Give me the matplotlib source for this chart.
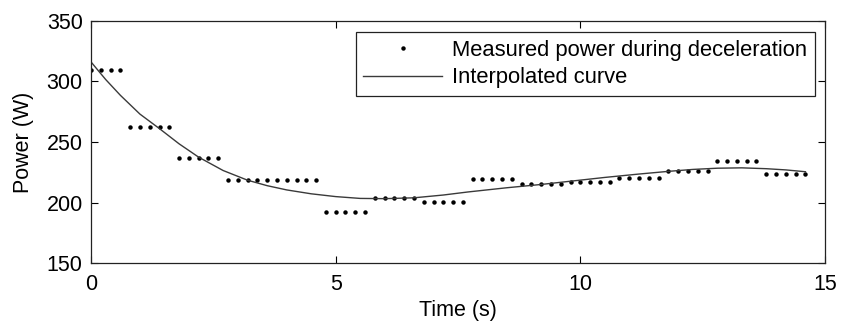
import matplotlib
matplotlib.use("Agg")
import matplotlib.pyplot as plt

# measured samples (one every 0.2 s)
time_meas = [0.0, 0.2, 0.4, 0.6,
             0.8, 1.0, 1.2, 1.4, 1.6,
             1.8, 2.0, 2.2, 2.4, 2.6,
             2.8, 3.0, 3.2, 3.4, 3.6, 3.8, 4.0, 4.2, 4.4, 4.6,
             4.8, 5.0, 5.2, 5.4, 5.6,
             5.8, 6.0, 6.2, 6.4, 6.6,
             6.8, 7.0, 7.2, 7.4, 7.6,
             7.8, 8.0, 8.2, 8.4, 8.6,
             8.8, 9.0, 9.2, 9.4, 9.6,
             9.8, 10.0, 10.2, 10.4, 10.6,
             10.8, 11.0, 11.2, 11.4, 11.6,
             11.8, 12.0, 12.2, 12.4, 12.6,
             12.8, 13.0, 13.2, 13.4, 13.6,
             13.8, 14.0, 14.2, 14.4, 14.6]
power_meas = [309.5, 309.5, 309.5, 309.5,
              262.5, 262.5, 262.5, 262.5, 262.5,
              237, 237, 237, 237, 237,
              219, 219, 219, 219, 219, 218.5, 218.5, 218.5, 218.5, 218.5,
              192, 192, 192, 192, 192,
              204, 204, 204, 204, 204,
              200.5, 200.5, 200.5, 200.5, 200.5,
              219.5, 219.5, 219.5, 219.5, 219.5,
              215, 215, 215, 215, 215,
              217, 217, 217, 217, 217,
              220.5, 220.5, 220.5, 220.5, 220.5,
              226, 226, 226, 226, 226,
              234.5, 234.5, 234.5, 234.5, 234.5,
              224, 224, 224, 224, 224]

# interpolated curve
time_curve = [0.0, 0.3, 0.6, 1.0, 1.4, 1.8, 2.2, 2.7, 3.2, 3.6, 4.0, 4.5,
              5.0, 5.5, 6.0, 6.6, 7.2, 7.7, 8.5, 9.2, 9.6, 10.5, 11.2,
              11.8, 12.3, 12.8, 13.3, 13.8, 14.2, 14.6]
power_curve = [316, 301.5, 288.5, 273, 261, 248.5, 237.5, 226.5, 218.5, 214,
               210.5, 207.3, 205, 203.5, 203.3, 204, 206.3, 208.8, 212.3, 215,
               216.8, 220.8, 223.6, 225.8, 227.4, 228.4, 228.7, 228, 227, 225.5]

plt.rcParams['font.family'] = ['Liberation Sans', 'DejaVu Sans']
plt.rcParams['font.size'] = 15.5

fig = plt.figure(figsize=(8.42, 3.25), dpi=100)
ax = fig.add_axes([0.1081, 0.1898, 0.8717, 0.7465])

ax.plot(time_meas, power_meas, linestyle='none', marker='o', markersize=3.2,
        color='black', markeredgewidth=0, label='Measured power during deceleration')
ax.plot(time_curve, power_curve, color='#3a3a3a', linewidth=1.0,
        label='Interpolated curve')

ax.set_xlim(0, 15)
ax.set_ylim(150, 350)
ax.set_xticks([0, 5, 10, 15])
ax.set_yticks([150, 200, 250, 300, 350])
ax.tick_params(direction='in', length=5, width=0.8, top=True, right=True,
               labelsize=15.5)
ax.tick_params(axis='x', pad=8)
ax.tick_params(axis='y', pad=6)
for sp in ax.spines.values():
    sp.set_linewidth(0.9)
    sp.set_color('#222222')

ax.set_xlabel('Time (s)', fontsize=15.5, labelpad=3)
ax.set_ylabel('Power (W)', fontsize=15.5, labelpad=9)

leg = ax.legend(loc='upper right', bbox_to_anchor=(0.9864, 0.9534),
                borderaxespad=0, fancybox=False, framealpha=1,
                edgecolor='#222222', handlelength=3.6, handletextpad=0.45,
                borderpad=0.35, labelspacing=0.3, fontsize=15.8)
leg.get_frame().set_linewidth(0.9)

fig.savefig('out.png', dpi=100)
